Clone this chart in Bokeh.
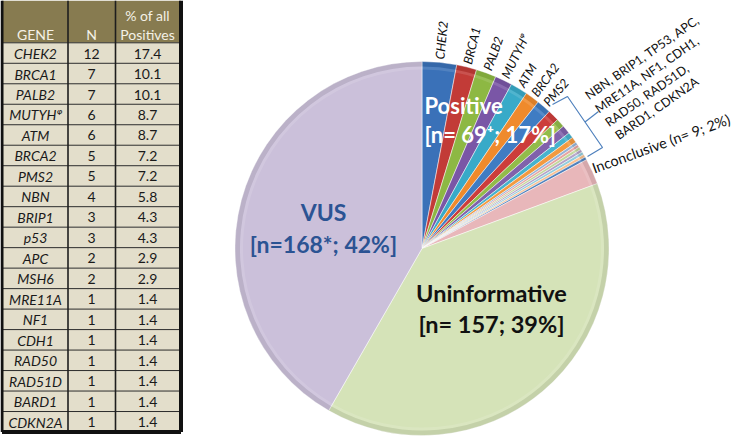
import numpy as np
from bokeh.plotting import figure
from bokeh.models import Range1d, ColumnDataSource
from bokeh.embed import file_html
from bokeh.resources import INLINE
from bokeh.core.properties import value

# ---------------- data ----------------
genes = ["CHEK2", "BRCA1", "PALB2", "MUTYH\u1d60", "ATM", "BRCA2", "PMS2", "NBN", "BRIP1",
         "p53", "APC", "MSH6", "MRE11A", "NF1", "CDH1", "RAD50", "RAD51D", "BARD1", "CDKN2A"]
gene_n = [12, 7, 7, 6, 6, 5, 5, 4, 3, 3, 2, 2, 1, 1, 1, 1, 1, 1, 1]
gene_pct = ["17.4", "10.1", "10.1", "8.7", "8.7", "7.2", "7.2", "5.8", "4.3", "4.3",
            "2.9", "2.9", "1.4", "1.4", "1.4", "1.4", "1.4", "1.4", "1.4"]
labelled_genes = 7  # first genes that get their own label on the pie

other_cats = ["Inconclusive", "Uninformative", "VUS"]
other_n = [9, 157, 168]

header = ["GENE", "N", "% of all", "Positives"]
group_lines = ["NBN, BRIP1, TP53, APC,", "MRE11A, NF1, CDH1,", "RAD50, RAD51D,", "BARD1, CDKN2A"]
incon_label = "Inconclusive (n= 9; 2%)"

gene_colors = ["#3A71B8", "#C23B37", "#8DB843", "#7A56A6", "#38AAC8", "#EF8A2C",
               "#3F7CC3", "#CC3D3B", "#92BC4A", "#8061AB", "#45B3CE", "#F39A40",
               "#95B3D7", "#E6A4A2", "#C3D69B", "#B3A2C7", "#93CDDD", "#FAC090", "#4F81BD"]
other_colors = ["#E8B7BA", "#D5E3B8", "#CBC0DA"]

FONT = value("Lato")
W, H = 734, 447


def Y(ry):
    return H - ry


p = figure(width=W, height=H, x_range=Range1d(0, W), y_range=Range1d(0, H),
           output_backend="svg", toolbar_location=None, min_border=0,
           x_axis_location=None, y_axis_location=None)
p.grid.visible = False
p.outline_line_color = None
p.background_fill_color = "white"
p.border_fill_color = "white"

# ---------------- table ----------------
T_L, T_R, T_TOP, H_BOT, T_BOT = 1.5, 180.5, 0, 42.3, 431.5
C1, C2 = 67.5, 115
nrow = len(genes)
rh = (T_BOT - H_BOT) / nrow

p.quad(left=T_L, right=T_R, top=Y(T_TOP), bottom=Y(H_BOT), fill_color="#877B50", line_color=None)
rows_top = [H_BOT + i * rh for i in range(nrow)]
rows_bot = [H_BOT + (i + 1) * rh for i in range(nrow)]
p.quad(left=T_L, right=T_R, top=[Y(t) for t in rows_top], bottom=[Y(b) for b in rows_bot],
       fill_color="#E3DECB", line_color=None)
# horizontal row lines
p.segment(x0=T_L, x1=T_R, y0=[Y(t) for t in rows_top], y1=[Y(t) for t in rows_top],
          line_color="#2B2B2B", line_width=1)
# column separators
p.segment(x0=[C1, C2], x1=[C1, C2], y0=Y(T_TOP), y1=Y(T_BOT), line_color="#1E1E1E", line_width=1.6)
# outer border
p.segment(x0=[T_L, T_R, T_L], x1=[T_L, T_R, T_R], y0=[Y(T_TOP), Y(T_TOP), Y(T_BOT)],
          y1=[Y(T_BOT), Y(T_BOT), Y(T_BOT)], line_color="#111111", line_width=[3, 4, 4])

hdr_c = "#F4F1E6"
p.text(x=[35, 91], y=[Y(34), Y(34)], text=header[:2], text_font=FONT, text_font_size="14px",
       text_color=hdr_c, text_align="center", text_baseline="middle")
p.text(x=[147, 147], y=[Y(15), Y(34)], text=header[2:], text_font=FONT, text_font_size="14px",
       text_color=hdr_c, text_align="center", text_baseline="middle")

ymid = [Y((a + b) / 2 + 0.5) for a, b in zip(rows_top, rows_bot)]
p.text(x=35, y=ymid, text=genes, text_font=FONT, text_font_size="14px", text_font_style="italic",
       text_color="#1A1A1A", text_align="center", text_baseline="middle")
p.text(x=91, y=ymid, text=[str(v) for v in gene_n], text_font=FONT, text_font_size="14px",
       text_color="#1A1A1A", text_align="center", text_baseline="middle")
p.text(x=147, y=ymid, text=gene_pct, text_font=FONT, text_font_size="14px",
       text_color="#1A1A1A", text_align="center", text_baseline="middle")

# ---------------- pie ----------------
CX, CY, R = 421.5, Y(248), 187
vals = np.array(gene_n + other_n, dtype=float)
cols = gene_colors + other_colors
frac = vals / vals.sum()
th1 = np.concatenate([[0], np.cumsum(frac)[:-1]]) * 2 * np.pi   # clockwise from top
th2 = np.cumsum(frac) * 2 * np.pi
src = ColumnDataSource(dict(start=np.pi / 2 - th2, end=np.pi / 2 - th1, color=cols))
p.wedge(x=CX, y=CY, radius=R, start_angle="start", end_angle="end", fill_color="color",
        line_color="white", line_width=0.7, line_alpha=0.7, source=src)
# bevel: darker rim and light inner edge
p.annular_wedge(x=CX, y=CY, inner_radius=R - 5, outer_radius=R, start_angle="start", end_angle="end",
                fill_color="black", fill_alpha=0.08, line_color=None, source=src)
p.annular_wedge(x=CX, y=CY, inner_radius=R - 8, outer_radius=R - 5, start_angle="start", end_angle="end",
                fill_color="white", fill_alpha=0.12, line_color=None, source=src)

# gene labels along the radius
mid = (th1 + th2)[:labelled_genes] / 2
r0 = R + 3
p.text(x=CX + r0 * np.sin(mid), y=CY + r0 * np.cos(mid), text=genes[:labelled_genes],
       angle=np.pi / 2 - mid, text_font=FONT, text_font_size="12.5px", text_font_style="italic",
       text_color="#111111", text_align="left", text_baseline="middle")

# bracket
bx = [552, 567, 602, 587]
by = [104, 96, 147, 156]
p.line(x=bx, y=[Y(v) for v in by], line_color="#4F81BD", line_width=1.2)
p.line(x=[584.5, 598], y=[Y(121.5), Y(111)], line_color="#4F81BD", line_width=1.2)

ga = np.deg2rad(35)
gx = [586, 596, 606, 616]
gy = [96, 109.5, 123, 136]
p.text(x=gx, y=[Y(v) for v in gy], text=group_lines, angle=ga, text_font=FONT, text_font_size="12.5px",
       text_color="#111111", text_align="left", text_baseline="alphabetic")
p.text(x=[592], y=[Y(168)], text=[incon_label], angle=np.deg2rad(20), text_font=FONT,
       text_font_size="14.5px", text_color="#111111", text_align="left", text_baseline="alphabetic")

# big category labels
p.text(x=[424, 424], y=[Y(104.5), Y(134)], text=["Positive", "[n= 69\u207a; 17%]"], text_font=FONT,
       text_font_size="22px", text_font_style="bold", text_color="white",
       text_align="left", text_baseline="middle")
p.text(x=[323, 323], y=[Y(211), Y(243)], text=["VUS", "[n=168*; 42%]"], text_font=FONT,
       text_font_size="23px", text_font_style="bold", text_color="#2B5393",
       text_align="center", text_baseline="middle")
p.text(x=[491, 491], y=[Y(292), Y(323)], text=["Uninformative", "[n= 157; 39%]"], text_font=FONT,
       text_font_size="23.5px", text_font_style="bold", text_color="#111111",
       text_align="center", text_baseline="middle")

open("out.html", "w").write(file_html(p, INLINE))
